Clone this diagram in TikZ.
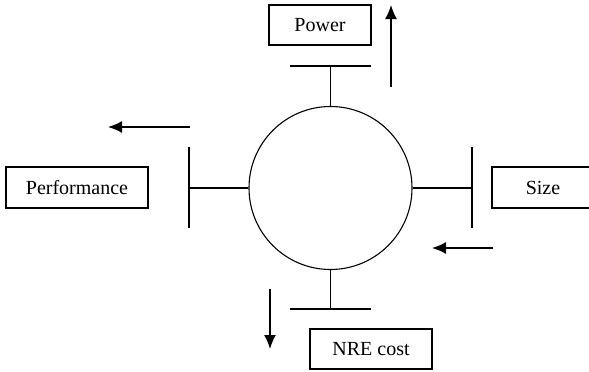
\documentclass[tikz,border=0pt]{standalone}
\usepackage{fontspec}
\setmainfont{Liberation Serif}
\usetikzlibrary{arrows.meta}
\begin{document}
\begin{tikzpicture}[x=1pt,y=-1pt,
  lbl/.style={draw,line width=1.1pt,inner sep=0pt,font=\fontsize{20}{24}\selectfont},
  ln/.style={line width=1.1pt},
  arr/.style={line width=1.6pt,-{Latex[length=14pt,width=12pt]}}]
\useasboundingbox (0,0) rectangle (589,372);
\clip (0,0) rectangle (589,372);
% central circle
\node[draw,circle,line width=1.1pt,inner sep=0pt,minimum size=163pt] (c) at (330.5,188) {};
% labels
\node[lbl,minimum width=102pt,minimum height=40pt] (power) at (320,25) {Power};
\node[lbl,minimum width=142pt,minimum height=41pt] (perf) at (77,187.5) {Performance};
\node[lbl,minimum width=102pt,minimum height=41pt] (size) at (543,187.5) {Size};
\node[lbl,minimum width=122pt,minimum height=40pt] (nre) at (371,349) {NRE cost};
% bars
\coordinate (tb) at (330.5,66);
\coordinate (lb) at (189,188);
\coordinate (rb) at (472,188);
\coordinate (bb) at (330.5,309);
\draw[ln] (290,66) -- (371,66);
\draw[ln] (189,147) -- (189,228);
\draw[ln] (472,147) -- (472,228);
\draw[ln] (290,309) -- (371,309);
\draw[ln] (c.north) -- (tb);
\draw[ln] (c.west) -- (lb);
\draw[ln] (c.east) -- (rb);
\draw[ln] (c.south) -- (bb);
% arrows
\coordinate (ua) at (391,87); \coordinate (ub) at (391,5);
\coordinate (la) at (190,127); \coordinate (lbb) at (108,127);
\coordinate (ra) at (493,248); \coordinate (rbb) at (432,248);
\coordinate (da) at (270,289); \coordinate (db) at (270,349);
\draw[arr] (ua) -- (ub);
\draw[arr] (la) -- (lbb);
\draw[arr] (ra) -- (rbb);
\draw[arr] (da) -- (db);
\end{tikzpicture}
\end{document}
